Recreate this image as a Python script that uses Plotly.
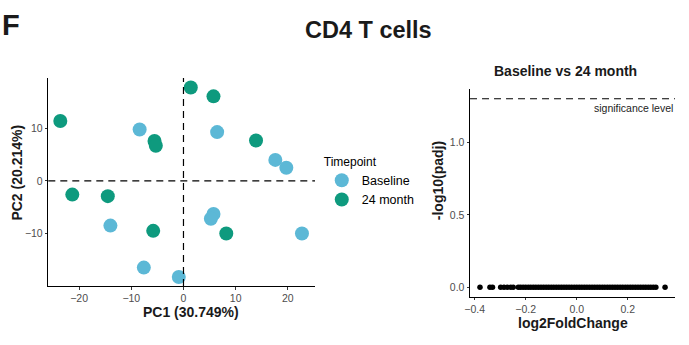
import plotly.graph_objects as go

# PCA data
base_pc1 = [-8.4, 6.45, 17.6, 19.7, 5.75, 5.25, -14.0, 22.7, -7.6, -0.9]
base_pc2 = [9.8, 9.3, 4.0, 2.5, -6.3, -7.2, -8.5, -10.0, -16.5, -18.3]
m24_pc1 = [-23.6, 1.4, 5.75, -5.55, -5.3, 13.9, -21.3, -14.5, -5.8, 8.2]
m24_pc2 = [11.4, 17.8, 16.1, 7.6, 6.7, 7.7, -2.6, -2.9, -9.5, -10.0]

# Volcano data (log2 fold change, -log10 padj)
lfc = [-0.379, -0.34, -0.33, -0.298, -0.285, -0.272, -0.259, -0.249,
       -0.229, -0.22, -0.21, -0.20, -0.19, -0.18, -0.17, -0.16, -0.15, -0.14,
       -0.13, -0.12, -0.11, -0.10, -0.09, -0.08, -0.07, -0.06, -0.05, -0.04,
       -0.03, -0.02, -0.01, 0.0, 0.01, 0.02, 0.03, 0.04, 0.05, 0.06, 0.07,
       0.08, 0.09, 0.10, 0.11, 0.12, 0.13, 0.14, 0.15, 0.16, 0.17, 0.18,
       0.19, 0.20, 0.21, 0.22, 0.23, 0.24, 0.25, 0.26, 0.27, 0.28, 0.29,
       0.30, 0.31, 0.346]
nlp = [0.0] * len(lfc)
sig_level = 1.30103

BLUE = "#5cb8d6"
GREEN = "#0e9a7e"
FONT = "Liberation Sans"
DASH = dict(color="black", width=1.2, dash="7px,5px")
W, H = 689, 345

fig = go.Figure()
fig.add_trace(go.Scatter(x=base_pc1, y=base_pc2, mode="markers", name="Baseline",
                         marker=dict(color=BLUE, size=14), xaxis="x", yaxis="y"))
fig.add_trace(go.Scatter(x=m24_pc1, y=m24_pc2, mode="markers", name="24 month",
                         marker=dict(color=GREEN, size=14), xaxis="x", yaxis="y"))
fig.add_trace(go.Scatter(x=lfc, y=nlp, mode="markers", showlegend=False,
                         marker=dict(color="black", size=5.5), xaxis="x2", yaxis="y2"))

tickfont = dict(family=FONT, size=10.5, color="#4d4d4d")
common = dict(showgrid=False, zeroline=False, showline=True, linecolor="black",
              linewidth=1, ticks="outside", ticklen=2.5, tickcolor="#333",
              tickfont=tickfont, automargin=False)


def px_ann(text, x, y, size, angle=0, **kw):
    return dict(text=text, x=x / W, y=1 - y / H, xref="paper", yref="paper",
                xanchor="center", yanchor="middle", showarrow=False, textangle=angle,
                borderpad=0,
                font=dict(size=size, color=kw.pop("color", "#1a1a1a")), **kw)


fig.update_layout(
    width=W, height=H,
    margin=dict(l=0, r=0, t=0, b=0),
    paper_bgcolor="white", plot_bgcolor="white",
    font=dict(family=FONT, color="black"),
    xaxis=dict(domain=[0.0701, 0.4572], range=[-25.9, 25.2],
               tickvals=[-20, -10, 0, 10, 20], **common),
    yaxis=dict(domain=[0.171, 0.774], range=[-20, 19.6],
               tickvals=[-10, 0, 10], **common),
    xaxis2=dict(domain=[0.6822, 0.9797], range=[-0.418, 0.385],
                tickvals=[-0.4, -0.2, 0.0, 0.2], tickformat=".1f",
                anchor="y2", **common),
    yaxis2=dict(domain=[0.140, 0.741], range=[-0.065, 1.366],
                tickvals=[0.0, 0.5, 1.0], tickformat=".1f",
                anchor="x2", **common),
    legend=dict(x=0.467, y=0.565, xanchor="left", yanchor="top",
                title=dict(text="Timepoint", font=dict(size=12)),
                font=dict(size=12.5), itemsizing="trace", tracegroupgap=0,
                bgcolor="rgba(0,0,0,0)"),
    shapes=[
        dict(type="line", xref="x", yref="y domain", x0=0, x1=0, y0=0, y1=1, line=DASH),
        dict(type="line", xref="x domain", yref="y", x0=0, x1=1, y0=0, y1=0, line=DASH),
        dict(type="line", xref="x2 domain", yref="y2", x0=0, x1=1,
             y0=sig_level, y1=sig_level, line=DASH),
    ],
    annotations=[
        px_ann("<b>F</b>", 11, 25, 29),
        px_ann("<b>CD4 T cells</b>", 368, 30, 23.5),
        px_ann("<b>Baseline vs 24 month</b>", 565, 71, 14),
        px_ann("<b>PC1 (30.749%)</b>", 190.8, 312, 14),
        px_ann("<b>PC2 (20.214%)</b>", 17, 172.6, 14, angle=-90),
        px_ann("<b>log2FoldChange</b>", 573, 323, 14),
        px_ann("<b>-log10(padj)</b>", 437.5, 180.7, 14, angle=-90),
        dict(text="significance level", x=1, y=sig_level, xref="x2 domain", yref="y2",
             xanchor="right", yanchor="top", yshift=-1, showarrow=False,
             font=dict(size=10.5, color="#222")),
    ],
)

fig.write_html("out.html")
